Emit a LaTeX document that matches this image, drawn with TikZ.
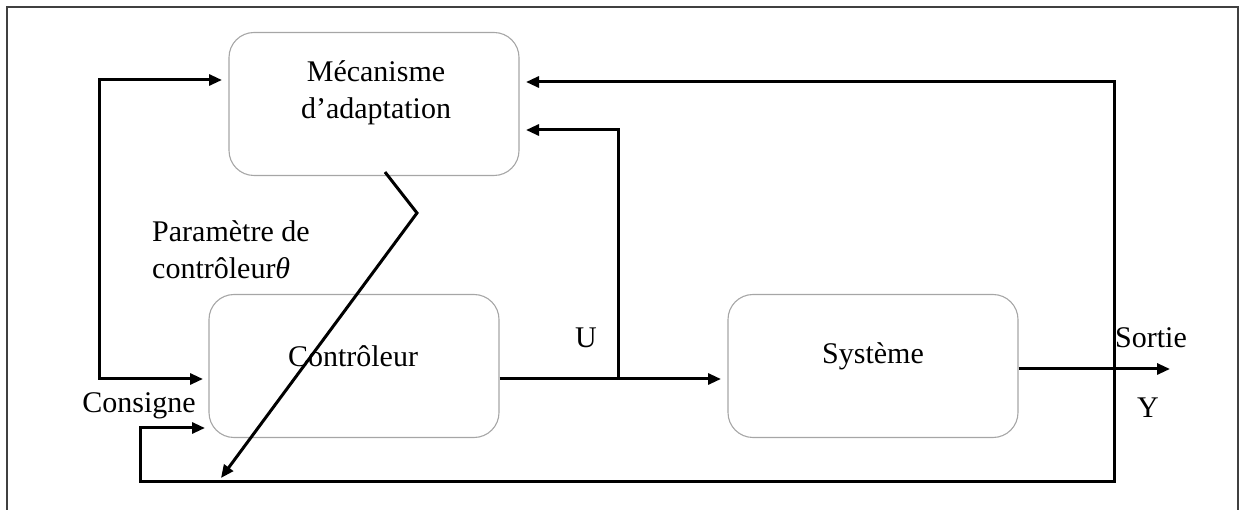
\documentclass[tikz,border=0pt]{standalone}
\usepackage{fontspec}
\setmainfont{Liberation Serif}
\usetikzlibrary{arrows.meta,calc}
\begin{document}
\begin{tikzpicture}[x=1pt,y=-1pt,
  blockbox/.style={draw=black!35,line width=1.1pt,rounded corners=25pt,
    minimum width=290pt,minimum height=143pt,inner sep=0pt},
  lbl/.style={inner sep=0pt,font=\fontsize{30}{37}\selectfont},
  wire/.style={line width=3pt,-{Triangle[length=13pt,width=11pt]}},
  wire2/.style={line width=3pt,{Triangle[length=13pt,width=11pt]}-{Triangle[length=13pt,width=11pt]}},
  frameline/.style={draw=black!75,line width=1.6pt}]
\useasboundingbox (0,0) rectangle (1240,510);
% open frame around the diagram
\draw[frameline] (7,512) -- (7,7) -- (1238,7) -- (1238,512);

% blocks
\node[blockbox] (mec) at (374,104) {};
\node[blockbox] (ctrl) at (354,366) {};
\node[blockbox] (sys) at (873,366) {};
\node[lbl,align=center] (mectxt) at (376,93) {Mécanisme\\d’adaptation};
\node[lbl] (ctrltxt) at (353,356) {Contrôleur};
\node[lbl] (systxt) at (873,356) {Système};

% labels
\node[lbl,align=left,anchor=west] (param) at (152,250) {Paramètre de\\contrôleur{\itshape θ}};
\node[lbl] (consigne) at (139,406) {Consigne};
\node[lbl] (u) at (586,338) {U};
\node[lbl] (sortie) at (1151,338) {Sortie};
\node[lbl] (y) at (1148,408) {Y};

% reference point coordinates
\coordinate (lt) at (99,80);
\coordinate (lb) at (99,379);
\coordinate (ujn) at (618,379);
\coordinate (utop) at (618,130);
\coordinate (rt) at (1114,82);
\coordinate (rb) at (1114,481);
\coordinate (bl) at (140,481);
\coordinate (bu) at (140,428);
\coordinate (out) at (1170,369);
\coordinate (pk) at (417,213);
\coordinate (pend) at (221,478);

% setpoint branch to both blocks
\draw[wire2] (222,80) -- (lt) -- (lb) -- (203,379);
% controller output to the plant
\draw[wire] (ctrl.east |- ujn) -- (721,379);
% control signal U fed back to the adaptation block
\draw[wire] (ujn) -- (utop) -- (526,130);
% plant output
\draw[wire] (sys.east |- out) -- (out);
% output feedback loop
\draw[wire2] (526,82) -- (rt) -- (rb) -- (bl) -- (bu) -- (205,428);
% adjustable controller parameter
\draw[wire] ($(mec.south)+(11,-4)$) -- (pk) -- (pend);
\end{tikzpicture}
\end{document}
